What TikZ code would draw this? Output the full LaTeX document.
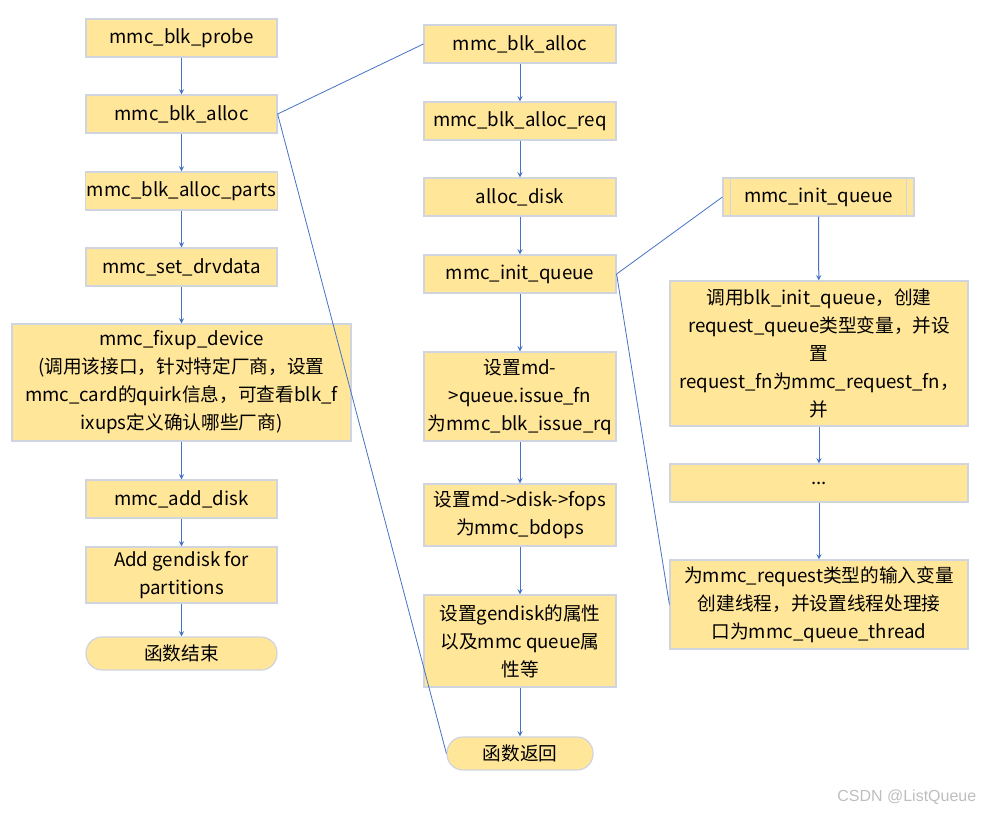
\documentclass[tikz,border=0pt]{standalone}
\usepackage{fontspec}
\setmainfont{Noto Sans CJK SC}
\newfontfamily\wmfont{Liberation Sans}
\usepackage{tikz}
\usetikzlibrary{arrows,shapes,positioning}
\usepackage{xcolor}
\definecolor{fnfill}{RGB}{255,230,153}
\definecolor{fnedge}{RGB}{208,212,222}
\definecolor{fnblue}{RGB}{68,114,196}
\definecolor{wmgray}{RGB}{190,190,190}
\tikzstyle{arrow} = [->,>=stealth,color=fnblue,line width=0.75pt]
\tikzstyle{link} = [color=fnblue,line width=0.6pt]
\tikzstyle{func} = [rectangle, minimum width=143.25pt, minimum height=28.5pt, inner sep=1pt, align=center, draw=fnedge, fill=fnfill, line width=0.9pt, font=\fontsize{14}{21}\selectfont]
\tikzstyle{term} = [func, rounded corners=12pt, minimum height=24.75pt]

\begin{document}
\begin{tikzpicture}[x=0.75pt,y=-0.75pt]
\useasboundingbox (0,0) rectangle (984,814);
% Left column: mmc_blk_probe
\node[func] (probe) at (181.5,38) {mmc\_blk\_probe};
\node[func] (lalloc) at (181.5,114) {mmc\_blk\_alloc};
\node[func] (parts) at (181.5,191) {mmc\_blk\_alloc\_parts};
\node[func] (drvdata) at (181.5,267) {mmc\_set\_drvdata};
\node[func, minimum width=254.25pt, minimum height=87.75pt] (fixup) at (181.5,382.5) {mmc\_fixup\_device\\(调用该接口，针对特定厂商，设置\\mmc\_card的quirk信息，可查看blk\_f\\ixups定义确认哪些厂商)};
\node[func] (adddisk) at (181.5,499) {mmc\_add\_disk};
\node[func, minimum height=42pt] (gendisk) at (181.5,575) {Add gendisk for\\partitions};
\node[term] (lend) at (181.5,653.5) {函数结束};

\draw[arrow] (probe) -- (lalloc);
\draw[arrow] (lalloc) -- (parts);
\draw[arrow] (parts) -- (drvdata);
\draw[arrow] (drvdata) -- (fixup);
\draw[arrow] (fixup) -- (adddisk);
\draw[arrow] (adddisk) -- (gendisk);
\draw[arrow] (gendisk) -- (lend);

% Middle column: mmc_blk_alloc
\node[func, minimum width=144pt] (malloc) at (520,44) {mmc\_blk\_alloc};
\node[func, minimum width=144pt] (allocreq) at (520,121) {mmc\_blk\_alloc\_req};
\node[func, minimum width=144pt] (allocdisk) at (520,197) {alloc\_disk};
\node[func, minimum width=144pt] (minit) at (520,274) {mmc\_init\_queue};
\node[func, minimum width=144pt, minimum height=66.75pt] (issue) at (520,396.5) {设置md-\\>queue.issue\_fn\\为mmc\_blk\_issue\_rq};
\node[func, minimum width=144pt, minimum height=46.5pt] (fops) at (520,515) {设置md->disk->fops\\为mmc\_bdops};
\node[func, minimum width=144pt, minimum height=69pt] (attr) at (520,641) {设置gendisk的属性\\以及mmc queue属\\性等};
\node[term, minimum width=109.5pt] (mret) at (520,753.5) {函数返回};

\draw[arrow] (malloc) -- (allocreq);
\draw[arrow] (allocreq) -- (allocdisk);
\draw[arrow] (allocdisk) -- (minit);
\draw[arrow] (minit) -- (issue);
\draw[arrow] (issue) -- (fops);
\draw[arrow] (fops) -- (attr);
\draw[arrow] (attr) -- (mret);

% Right column: mmc_init_queue
\node[func] (rinit) at (818.5,197) {mmc\_init\_queue};
\draw[draw=fnedge, line width=0.9pt] ([xshift=6pt]rinit.north west) -- ([xshift=6pt]rinit.south west);
\draw[draw=fnedge, line width=0.9pt] ([xshift=-6pt]rinit.north east) -- ([xshift=-6pt]rinit.south east);
\node[func, minimum width=223.5pt, minimum height=108.75pt] (blkinit) at (819,353.5) {调用blk\_init\_queue，创建\\request\_queue类型变量，并设\\置\\request\_fn为mmc\_request\_fn，\\并};
\node[func, minimum width=223.5pt] (dots) at (819,483) {...};
\node[func, minimum width=223.5pt, minimum height=66.75pt] (thread) at (819,604.5) {为mmc\_request类型的输入变量\\创建线程，并设置线程处理接\\口为mmc\_queue\_thread};

\draw[arrow] (rinit) -- (blkinit);
\draw[arrow] (blkinit) -- (dots);
\draw[arrow] (dots) -- (thread);

% expand lines
\draw[link] (lalloc.east) -- (malloc.west);
\draw[link] (lalloc.east) -- (mret.west);
\draw[link] (minit.east) -- (rinit.west);
\draw[link] (minit.east) -- (thread.west);

\node[anchor=east, text=wmgray, font=\wmfont\fontsize{12}{14}\selectfont] (mark) at (981,797) {CSDN @ListQueue};
\end{tikzpicture}
\end{document}
